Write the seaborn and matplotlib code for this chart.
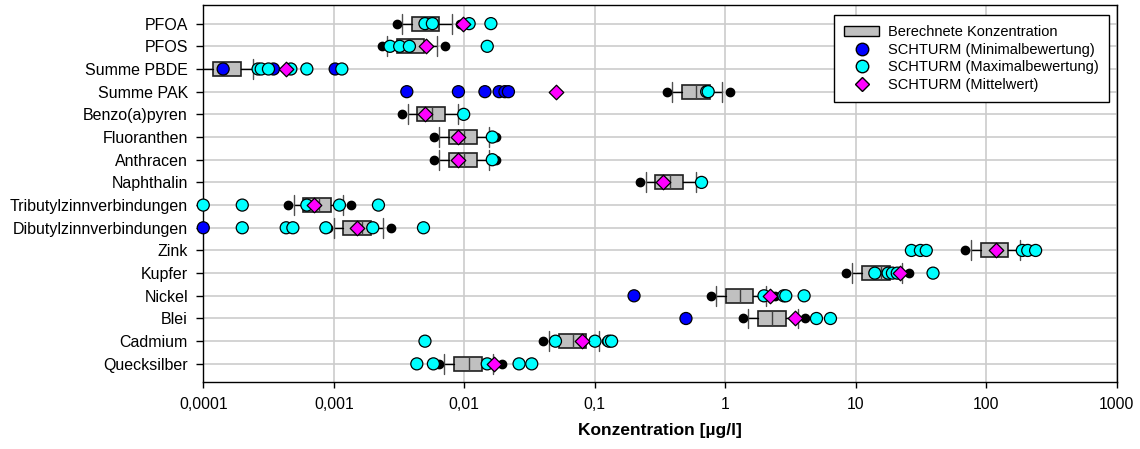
import numpy as np
import pandas as pd
import matplotlib
matplotlib.use("Agg")
import matplotlib.pyplot as plt
import seaborn as sns
from matplotlib.patches import Patch
from matplotlib.lines import Line2D

# Stoffe (von oben nach unten)
stoffe = ["PFOA", "PFOS", "Summe PBDE", "Summe PAK", "Benzo(a)pyren", "Fluoranthen",
          "Anthracen", "Naphthalin", "Tributylzinnverbindungen", "Dibutylzinnverbindungen",
          "Zink", "Kupfer", "Nickel", "Blei", "Cadmium", "Quecksilber"]

# Berechnete Konzentration: Boxplot-Kennwerte [µg/l]
q1 = [0.00398, 0.00304, 0.000118, 0.468, 0.00437, 0.00769, 0.00769, 0.292,
      0.000586, 0.001186, 90.6, 11.2, 1.01, 1.79, 0.0532, 0.0084]
median = [0.0052, 0.0039, 0.00015, 0.596, 0.00564, 0.0100, 0.0100, 0.376,
          0.000764, 0.00164, 118, 15.7, 1.295, 2.29, 0.0678, 0.01094]
q3 = [0.00645, 0.00492, 0.000194, 0.762, 0.00718, 0.01247, 0.01247, 0.476,
      0.000955, 0.00192, 147.6, 18.2, 1.637, 2.90, 0.0857, 0.01361]
whisker_lo = [0.00336, 0.00258, 0.00008, 0.392, 0.00369, 0.00645, 0.00645, 0.247,
              0.000492, 0.000996, 76.0, 9.37, 0.847, 1.50, 0.0446, 0.00705]
whisker_hi = [0.00802, 0.00623, 0.000239, 0.947, 0.00892, 0.0155, 0.0155, 0.592,
              0.001186, 0.00239, 183, 22.5, 2.04, 3.58, 0.1077, 0.0167]
minimum = [0.00304, 0.00233, None, 0.355, 0.00336, 0.00587, 0.00587, 0.223,
           0.000445, 0.0009, 69.2, 8.49, 0.771, 1.356, 0.0404, 0.00645]
maximum = [0.0093, 0.00713, None, 1.084, 0.0097, 0.0174, 0.0174, 0.65,
           0.001359, 0.00274, 195, 25.6, 2.40, 4.12, 0.123, 0.0196]

# SCHTURM Ergebnisse je Stoff
schturm_min = [[], [], [0.000142, 0.000345, 0.001025],
               [0.00363, 0.00902, 0.0144, 0.0185, 0.0205, 0.0218],
               [], [], [], [], [], [0.0001], [], [], [0.2], [0.5], [], []]
schturm_max = [[0.0050, 0.0057, 0.0109, 0.0160],
               [0.0027, 0.0032, 0.0038, 0.0150],
               [0.000263, 0.000278, 0.000316, 0.000469, 0.000622, 0.001153],
               [0.72, 0.74],
               [0.0099],
               [0.0164],
               [0.0164],
               [0.658],
               [0.0001, 0.000199, 0.000622, 0.001106, 0.0022],
               [0.000199, 0.000432, 0.000486, 0.00087, 0.00199, 0.00487],
               [26.7, 31.3, 34.7, 189, 208, 239],
               [14.0, 17.7, 19.1, 20.8, 39.1],
               [1.98, 2.81, 2.91, 4.02],
               [5.0, 6.4],
               [0.005, 0.050, 0.1004, 0.1284, 0.1346],
               [0.00433, 0.0058, 0.0150, 0.0263, 0.0329]]
schturm_mittel = [0.00985, 0.0051, 0.000432, 0.0501, 0.00501, 0.00902, 0.00902, 0.331,
                  0.000708, 0.0015, 119.4, 22.0, 2.19, 3.41, 0.0802, 0.0169]

xticks = [0.0001, 0.001, 0.01, 0.1, 1, 10, 100, 1000]
xtick_labels = ["0,0001", "0,001", "0,01", "0,1", "1", "10", "100", "1000"]

serien = ["SCHTURM (Minimalbewertung)", "SCHTURM (Maximalbewertung)", "SCHTURM (Mittelwert)"]
farben = {serien[0]: "#0000ff", serien[1]: "#00ffff", serien[2]: "#ff00ff"}
marker = {serien[0]: "o", serien[1]: "o", serien[2]: "D"}

sns.set_theme(style="ticks", rc={"text.color": "black", "axes.labelcolor": "black",
                                 "xtick.color": "black", "ytick.color": "black"})
plt.rcParams["font.family"] = ["Liberation Sans", "DejaVu Sans"]

# Long-Format für seaborn
rows = []
for i in range(len(stoffe)):
    for v in schturm_min[i]:
        rows.append((i, v, serien[0]))
for i in range(len(stoffe)):
    for v in schturm_max[i]:
        rows.append((i, v, serien[1]))
punkte = pd.DataFrame(rows, columns=["pos", "Wert", "Serie"])
mittel = pd.DataFrame({"pos": range(len(stoffe)), "Wert": schturm_mittel, "Serie": serien[2]})

# Boxplot-Statistiken
stats = []
for i in range(len(stoffe)):
    stats.append({
        "q1": q1[i], "med": median[i], "q3": q3[i],
        "whislo": whisker_lo[i], "whishi": whisker_hi[i],
        "fliers": [v for v in (minimum[i], maximum[i]) if v is not None],
    })

fig = plt.figure(figsize=(11.4, 4.49), dpi=100)
ax = fig.add_axes([0.1783, 0.1492, 0.8013, 0.8386])

ax.set_xscale("log")
ax.bxp(stats, positions=range(len(stoffe)), widths=0.62, capwidths=0.88,
       orientation="horizontal", patch_artist=True, manage_ticks=False,
       boxprops=dict(facecolor="#c0c0c0", edgecolor="#202020", linewidth=1.2),
       medianprops=dict(color="#404040", linewidth=1.0),
       whiskerprops=dict(color="black", linewidth=1.0),
       capprops=dict(color="#505050", linewidth=1.0),
       flierprops=dict(marker="o", markerfacecolor="black", markeredgecolor="black",
                       markersize=6))

sns.scatterplot(data=punkte, x="Wert", y="pos", hue="Serie", palette=farben,
                s=75, edgecolor="black", linewidth=0.9, legend=False, ax=ax,
                zorder=3, clip_on=False)
sns.scatterplot(data=mittel, x="Wert", y="pos", color=farben[serien[2]], marker="D",
                s=55, edgecolor="black", linewidth=0.9, legend=False, ax=ax,
                zorder=4, clip_on=False)

ax.set_xlim(1e-4, 1e3)
ax.set_ylim(len(stoffe) - 0.2, -0.8)
ax.set_xticks(xticks)
ax.set_xticklabels(xtick_labels, fontsize=11.3)
ax.xaxis.set_minor_locator(matplotlib.ticker.NullLocator())
ax.set_yticks(range(len(stoffe)))
ax.set_yticklabels(stoffe, fontsize=11.5)
ax.tick_params(axis="x", length=4, width=1, pad=7, color="black")
ax.tick_params(axis="y", length=5, width=1, pad=6, color="black")
ax.grid(True, color="#cccccc", linewidth=1.2)
ax.set_axisbelow(True)
for s in ax.spines.values():
    s.set_color("black")
    s.set_linewidth(1.0)
ax.set_ylabel("")
ax.set_xlabel("Konzentration [µg/l]", fontsize=12.5, fontweight="bold", labelpad=8)

handles = [Patch(facecolor="#c0c0c0", edgecolor="black", linewidth=1.0)]
for serie, ms in zip(serien, [9, 9, 7.5]):
    handles.append(Line2D([], [], linestyle="", marker=marker[serie], markersize=ms,
                          markerfacecolor=farben[serie], markeredgecolor="black"))
leg = ax.legend(handles, ["Berechnete Konzentration"] + serien, loc="upper right",
                bbox_to_anchor=(0.9916, 0.975), borderaxespad=0, fontsize=10.5,
                frameon=True, fancybox=False, framealpha=1, edgecolor="black",
                handlelength=2.4, handleheight=0.7, handletextpad=0.6,
                labelspacing=0.25, borderpad=0.7)
leg.get_frame().set_linewidth(1.0)

fig.savefig("out.png", dpi=100)
